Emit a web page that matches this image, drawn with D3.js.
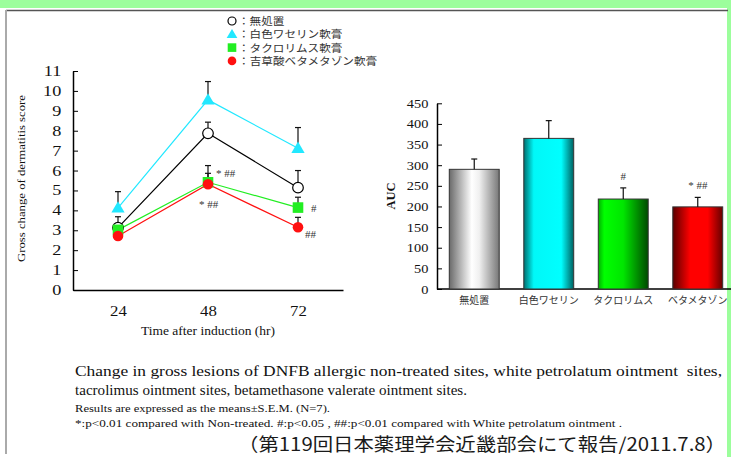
<!DOCTYPE html>
<html>
<head>
<meta charset="utf-8">
<script src="https://cdn.jsdelivr.net/npm/d3@7"></script>
<style>
  body { margin: 0; background: #fff; }
  svg { display: block; }
</style>
</head>
<body>
<div id="chart"></div>
<script>
// ---------------------------------------------------------------------------
// Data
// ---------------------------------------------------------------------------
const hours = [24, 48, 72];
const groupNames = ["無処置", "白色ワセリン軟膏", "タクロリムス軟膏", "吉草酸ベタメタゾン軟膏"];
const barLabels = ["無処置", "白色ワセリン", "タクロリムス", "ベタメタゾン"];

const meanNonTreated = [3.13, 7.87, 5.14];
const semNonTreated = [0.55, 0.56, 0.86];
const meanPetrolatum = [4.13, 9.55, 7.12];
const semPetrolatum = [0.81, 0.92, 1.04];
const meanTacrolimus = [3.02, 5.41, 4.14];
const semTacrolimus = [0.3, 0.84, 0.52];
const meanBetameth = [2.71, 5.31, 3.15];
const semBetameth = [0.3, 0.55, 0.5];

const aucMean = [290, 365, 218, 199];
const aucSem = [25, 43, 27, 23];
const aucMarks = ["", "", "#", "* ##"];

const scoreTicks = d3.range(0, 12);
const aucTicks = d3.range(0, 451, 50);

// ---------------------------------------------------------------------------
// Canvas
// ---------------------------------------------------------------------------
const W = 731, H = 457;
const serif = "'Liberation Serif', 'Times New Roman', 'DejaVu Serif', serif";
const jp = "'Noto Sans CJK JP', sans-serif";
// latin font first keeps the line box short, kana fall through to Noto CJK
const jpTight = "'Liberation Sans', 'Noto Sans CJK JP', sans-serif";

const svg = d3.select("#chart").append("svg")
  .attr("width", W).attr("height", H);

// slide frame
svg.append("rect").attr("x", 0).attr("y", 0).attr("width", W).attr("height", 8).attr("fill", "#9cfe9c");
svg.append("rect").attr("x", 727).attr("y", 0).attr("width", 4).attr("height", H).attr("fill", "#9cfe9c");
svg.append("line").attr("x1", 6).attr("x2", 728).attr("y1", 10.5).attr("y2", 10.5)
  .attr("stroke", "#555").attr("stroke-width", 1.5);
svg.append("rect").attr("x", 5).attr("y", 10).attr("width", 2).attr("height", 444).attr("fill", "#aaa");

// the slide image is stretched sideways, so the text is too
const stretch = k => t => t.attr("transform", `scale(${k},1)`);
const fit = w => t => t.attr("textLength", w).attr("lengthAdjust", "spacingAndGlyphs");

// ---------------------------------------------------------------------------
// Line chart
// ---------------------------------------------------------------------------
const xL = d3.scaleLinear().domain([12, 84]).range([73, 343]);
const yL = d3.scaleLinear().domain([0, 11]).range([290, 71]);

const series = [
  { name: groupNames[0], mean: meanNonTreated, sem: semNonTreated, color: "#000", shape: "open" },
  { name: groupNames[1], mean: meanPetrolatum, sem: semPetrolatum, color: "#22e8ff", shape: "tri" },
  { name: groupNames[2], mean: meanTacrolimus, sem: semTacrolimus, color: "#22ee22", shape: "sq" },
  { name: groupNames[3], mean: meanBetameth, sem: semBetameth, color: "#ff1010", shape: "dot" }
];

const gL = svg.append("g");

gL.append("g")
  .attr("transform", "translate(73,0)")
  .call(d3.axisLeft(yL).tickValues(scoreTicks).tickSize(-5).tickPadding(9).tickSizeOuter(0))
  .call(g => g.select(".domain").attr("stroke-width", 1.5))
  .call(g => g.selectAll("text").attr("font-family", serif).attr("font-size", 14).attr("fill", "#111")
    .call(stretch(1.3)));

gL.append("g")
  .attr("transform", "translate(0,290)")
  .call(d3.axisBottom(xL).tickValues(hours).tickSize(0).tickPadding(16).tickSizeOuter(0))
  .call(g => g.select(".domain").attr("stroke-width", 1.5))
  .call(g => g.selectAll("text").attr("font-family", serif).attr("font-size", 14).attr("fill", "#111")
    .call(stretch(1.2)));

gL.append("text")
  .attr("x", 141).attr("y", 335)
  .attr("font-family", serif).attr("font-size", 12).attr("fill", "#111")
  .text("Time after induction (hr)").call(fit(134));

gL.append("text")
  .attr("transform", "translate(25,262) rotate(-90)")
  .attr("font-family", serif).attr("font-size", 11).attr("fill", "#111")
  .text("Gross change of dermatitis score").call(fit(167));

// error bars (upper only)
series.forEach(s => {
  hours.forEach((h, i) => {
    const x = xL(h), y0 = yL(s.mean[i]), y1 = yL(s.mean[i] + s.sem[i]);
    gL.append("line").attr("x1", x).attr("x2", x).attr("y1", y0).attr("y2", y1)
      .attr("stroke", "#111").attr("stroke-width", 1.2);
    gL.append("line").attr("x1", x - 3).attr("x2", x + 3).attr("y1", y1).attr("y2", y1)
      .attr("stroke", "#111").attr("stroke-width", 1.2);
  });
});

const line = d3.line().x((d, i) => xL(hours[i])).y(d => yL(d));

series.forEach(s => {
  gL.append("path").datum(s.mean)
    .attr("d", line).attr("fill", "none")
    .attr("stroke", s.color).attr("stroke-width", 1.2);
});

function drawMarker(g, shape, color, x, y, size) {
  if (shape === "open") {
    g.append("circle").attr("cx", x).attr("cy", y).attr("r", size)
      .attr("fill", "#fff").attr("stroke", "#000").attr("stroke-width", 1.2);
  } else if (shape === "dot") {
    g.append("circle").attr("cx", x).attr("cy", y).attr("r", size).attr("fill", color);
  } else if (shape === "sq") {
    g.append("rect").attr("x", x - size).attr("y", y - size)
      .attr("width", size * 2).attr("height", size * 2).attr("fill", color);
  } else {
    const r = size * 1.25;
    g.append("path")
      .attr("d", `M${x},${y - r}L${x + r},${y + r * 0.7}L${x - r},${y + r * 0.7}Z`)
      .attr("fill", color);
  }
}

// draw order: triangle, open circle, square, dot
[1, 0, 2, 3].forEach(k => {
  const s = series[k];
  s.mean.forEach((v, i) => drawMarker(gL, s.shape, s.color, xL(hours[i]), yL(v), 5.3));
});

const noteStyle = t => t.attr("font-family", serif).attr("font-size", 11).attr("fill", "#333");
gL.append("text").attr("x", 216).attr("y", 177).text("* ##").call(noteStyle);
gL.append("text").attr("x", 199).attr("y", 208).text("* ##").call(noteStyle);
gL.append("text").attr("x", 311).attr("y", 212).text("#").call(noteStyle);
gL.append("text").attr("x", 305).attr("y", 238).text("##").call(noteStyle);

// legend
const legend = svg.append("g");
series.forEach((s, i) => {
  const y = 21 + i * 13.3;
  drawMarker(legend, s.shape, s.color, 232, y, s.shape === "open" ? 4 : 4.3);
  legend.append("text").attr("x", 238).attr("y", y + 4)
    .attr("font-family", jpTight).attr("font-size", 10.5).attr("fill", "#333")
    .text("：" + s.name).call(fit(11.6 * (s.name.length + 1)));
});

// ---------------------------------------------------------------------------
// Bar chart (AUC)
// ---------------------------------------------------------------------------
const xR = d3.scaleBand().domain(barLabels).range([437, 735]).paddingInner(0.33).paddingOuter(0.165);
const yR = d3.scaleLinear().domain([0, 450]).range([289, 103.3]);

const gradients = [
  [[0, "#6a6a6a"], [0.45, "#ffffff"], [0.6, "#f0f0f0"], [1, "#777"]],
  [[0, "#007070"], [0.2, "#00f8f8"], [0.75, "#00ffff"], [1, "#006060"]],
  [[0, "#00b000"], [0.12, "#00ff00"], [0.5, "#00e600"], [1, "#004a00"]],
  [[0, "#5a0000"], [0.35, "#ff0000"], [0.7, "#ff0000"], [1, "#650000"]]
];

const defs = svg.append("defs");
gradients.forEach((stops, i) => {
  const lg = defs.append("linearGradient").attr("id", "bar" + i)
    .attr("x1", 0).attr("x2", 1).attr("y1", 0).attr("y2", 0);
  stops.forEach(st => lg.append("stop").attr("offset", st[0]).attr("stop-color", st[1]));
});

const gR = svg.append("g");

gR.append("g")
  .attr("transform", "translate(437,0)")
  .call(d3.axisLeft(yR).tickValues(aucTicks).tickSize(-5).tickPadding(7.5).tickSizeOuter(0))
  .call(g => g.select(".domain").attr("stroke-width", 1.5))
  .call(g => g.selectAll("text").attr("font-family", serif).attr("font-size", 12.5).attr("fill", "#111")
    .call(stretch(1.15)));

gR.append("line").attr("x1", 437).attr("x2", 731).attr("y1", 289).attr("y2", 289)
  .attr("stroke", "#000").attr("stroke-width", 1.5);

gR.append("text")
  .attr("transform", "translate(395,196) rotate(-90)").attr("text-anchor", "middle")
  .attr("font-family", serif).attr("font-size", 12.5).attr("font-weight", "bold").attr("fill", "#111")
  .text("AUC");

barLabels.forEach((lab, i) => {
  const x = xR(lab), w = xR.bandwidth();
  gR.append("rect").attr("x", x).attr("y", yR(aucMean[i]))
    .attr("width", w).attr("height", yR(0) - yR(aucMean[i]))
    .attr("fill", `url(#bar${i})`).attr("stroke", "#333").attr("stroke-width", 1);
  const cx = x + w / 2, ye = yR(aucMean[i] + aucSem[i]);
  gR.append("line").attr("x1", cx).attr("x2", cx).attr("y1", yR(aucMean[i])).attr("y2", ye)
    .attr("stroke", "#111").attr("stroke-width", 1.2);
  gR.append("line").attr("x1", cx - 3).attr("x2", cx + 3).attr("y1", ye).attr("y2", ye)
    .attr("stroke", "#111").attr("stroke-width", 1.2);
  if (aucMarks[i]) {
    gR.append("text").attr("x", cx).attr("y", ye - 8).attr("text-anchor", "middle")
      .text(aucMarks[i]).call(noteStyle);
  }
  gR.append("text").attr("x", cx).attr("y", 304).attr("text-anchor", "middle")
    .attr("font-family", jp).attr("font-size", 10).attr("fill", "#333")
    .text(lab);
});

// ---------------------------------------------------------------------------
// Caption
// ---------------------------------------------------------------------------
const cap = svg.append("g").attr("font-family", serif).attr("fill", "#111");
cap.append("text").attr("x", 75).attr("y", 376).attr("font-size", 15)
  .attr("xml:space", "preserve").style("white-space", "pre")
  .text("Change in gross lesions of DNFB allergic non-treated sites, white petrolatum ointment  sites,")
  .call(fit(647));
cap.append("text").attr("x", 75).attr("y", 395).attr("font-size", 15)
  .text("tacrolimus ointment sites, betamethasone valerate ointment sites.")
  .call(fit(392));
cap.append("text").attr("x", 75).attr("y", 412).attr("font-size", 10.5)
  .text("Results are expressed as the means±S.E.M. (N=7).")
  .call(fit(255));
cap.append("text").attr("x", 75).attr("y", 427).attr("font-size", 10.5)
  .text("*:p<0.01 compared with Non-treated. #:p<0.05 , ##:p<0.01 compared with White petrolatum ointment .")
  .call(fit(547));

svg.append("text").attr("x", 238).attr("y", 451)
  .attr("font-family", jp).attr("font-size", 18).attr("fill", "#1a1a1a")
  .text("（第119回日本薬理学会近畿部会にて報告/2011.7.8）")
  .call(fit(488));
</script>
</body>
</html>
